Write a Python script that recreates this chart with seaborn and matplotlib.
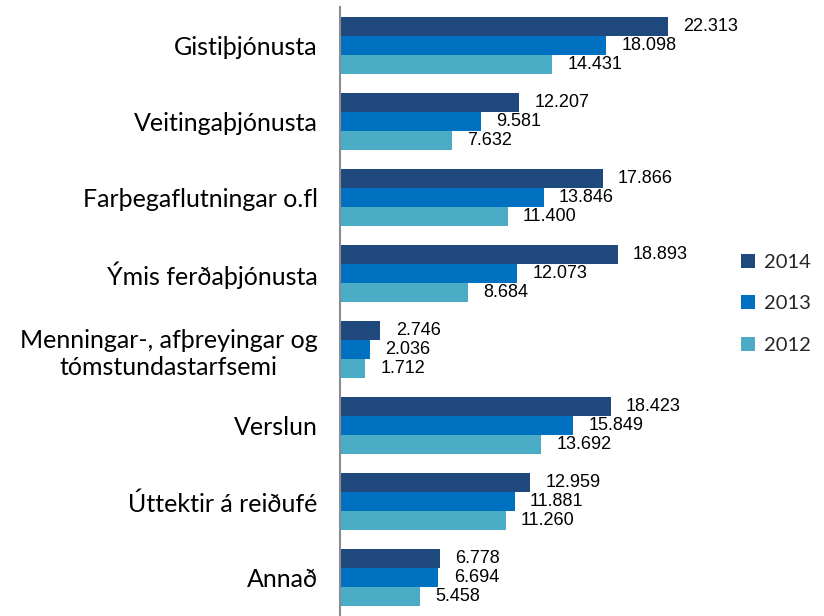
import matplotlib
matplotlib.use("Agg")
import matplotlib.pyplot as plt
import seaborn as sns
import pandas as pd

categories = ["Gistiþjónusta", "Veitingaþjónusta", "Farþegaflutningar o.fl",
              "Ýmis ferðaþjónusta", "Menningar-, afþreyingar og\ntómstundastarfsemi",
              "Verslun", "Úttektir á reiðufé", "Annað"]
years = ["2014", "2013", "2012"]
v2014 = [22313, 12207, 17866, 18893, 2746, 18423, 12959, 6778]
v2013 = [18098, 9581, 13846, 12073, 2036, 15849, 11881, 6694]
v2012 = [14431, 7632, 11400, 8684, 1712, 13692, 11260, 5458]
colors = ["#1F497D", "#0070C0", "#4BACC6"]

rows = []
for yr, vals in zip(years, [v2014, v2013, v2012]):
    for c, v in zip(categories, vals):
        rows.append({"cat": c, "year": yr, "val": v})
df = pd.DataFrame(rows)

sns.set_theme(style="white")
plt.rcParams["font.family"] = ["Lato", "DejaVu Sans"]

fig = plt.figure(figsize=(8.24, 6.16), dpi=100)
ax = fig.add_axes([340/824, 0.0, 380/824, 609/616])

sns.barplot(data=df, y="cat", x="val", hue="year", hue_order=years,
            order=categories, palette=colors, orient="h", width=0.75,
            saturation=1, ax=ax, legend=True, linewidth=0)

ax.set_xlim(0, 22313 * 380 / 328)
ax.set_ylim(7.5, -0.5)

for cont in ax.containers:
    labels = [f"{int(round(b.get_width())):,}".replace(",", ".") for b in cont]
    ax.bar_label(cont, labels=labels, padding=11,
                 fontsize=13, family=["Liberation Sans Narrow", "Liberation Sans", "DejaVu Sans"],
                 color="#000000")

ax.set_xlabel("")
ax.set_ylabel("")
ax.set_xticks([])
ax.tick_params(axis="y", length=0, pad=16, labelsize=18, labelcolor="#000000")
for lbl in ax.get_yticklabels():
    lbl.set_multialignment("center")
    lbl.set_linespacing(1.25)
for s in ["top", "right", "bottom"]:
    ax.spines[s].set_visible(False)
ax.spines["left"].set_color("#8c8c8c")
ax.spines["left"].set_linewidth(1.5)

handles, labs = ax.get_legend_handles_labels()
ax.legend_.remove()
fig.legend(handles, labs, loc="upper left", bbox_to_anchor=(733/824, 1 - 246/616),
           frameon=False, fontsize=14.5, handlelength=0.7, handleheight=0.7,
           labelspacing=1.2, handletextpad=0.45, borderaxespad=0)

fig.savefig("out.png", dpi=100)
